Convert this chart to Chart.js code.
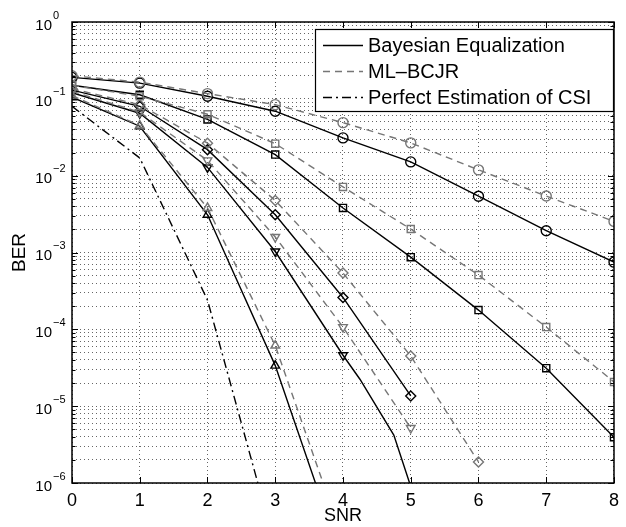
<!DOCTYPE html>
<html>
<head>
<meta charset="utf-8">
<script src="https://cdn.jsdelivr.net/npm/chart.js@4.4.0/dist/chart.umd.min.js"></script>
<style>
html,body{margin:0;padding:0;background:#fff;}
#wrap{width:626px;height:527px;}
</style>
</head>
<body>
<div id="wrap"><canvas id="c" width="626" height="527"></canvas></div>
<script>
// ---- data ----
const snr = [0, 1, 2, 3, 4, 5, 6, 7, 8];
const bayesCircle  = [0.19, 0.16, 0.108, 0.069, 0.031, 0.0151, 0.0054, 0.00192, 0.00075];
const mlCircle     = [0.20, 0.165, 0.117, 0.084, 0.049, 0.0267, 0.0119, 0.00543, 0.00254];
const bayesSquare  = [0.15, 0.113, 0.054, 0.0188, 0.0038, 0.00087, 0.000178, 0.0000312, 0.00000394];
const mlSquare     = [0.15, 0.108, 0.063, 0.0261, 0.00713, 0.00202, 0.000508, 0.000107, 0.0000207];
const bayesDiamond = [0.13, 0.08, 0.0218, 0.0031, 0.00026, 0.0000136];
const mlDiamond    = [0.135, 0.084, 0.0265, 0.00476, 0.00054, 0.000045, 0.00000188];
const snrTriDownB  = [0, 1, 2, 3, 4, 4.25, 4.75, 5];
const bayesTriDown = [0.12, 0.065, 0.0128, 0.00103, 0.000046, 0.0000224, 0.0000042, 0.0000009];
const mlTriDown    = [0.125, 0.067, 0.0158, 0.00159, 0.000107, 0.0000052];
const bayesTriUp   = [0.105, 0.044, 0.0031, 0.0000337, 0.00000009];
const mlTriUp      = [0.11, 0.045, 0.0038, 0.0000615, 0.00000018];
const perfectCSI   = [0.08, 0.017, 0.00024, 0.00000015];
const legendLabels = ['Bayesian Equalization', 'ML\u2013BCJR', 'Perfect Estimation of CSI'];
const yTickBase = '10';
const yTickExponents = ['\u22126', '\u22125', '\u22124', '\u22123', '\u22122', '\u22121', '0'];

const BLACK = '#000000';
const GRAY = '#767676';
const DASH = [7, 5];
const DASHDOT = [9, 4, 2, 4];

function pts(xs, ys) { return ys.map((v, i) => ({x: xs[i], y: v})); }
function markerRadius(ctx) {
  const r = ctx.raw;
  return (r && Number.isInteger(r.x) && r.y >= 1e-6) ? 5 : 0;
}
function series(label, xs, ys, color, dash, style, rot) {
  return {
    label: label,
    data: pts(xs, ys),
    borderColor: color,
    backgroundColor: 'rgba(0,0,0,0)',
    borderWidth: 1.4,
    borderDash: dash,
    pointStyle: style,
    pointRotation: rot || 0,
    pointRadius: style ? markerRadius : 0,
    pointBorderColor: color,
    pointBorderWidth: 1.4,
    pointBackgroundColor: 'rgba(0,0,0,0)',
    tension: 0,
    fill: false
  };
}

const datasets = [
  series('ML circle', snr, mlCircle, GRAY, DASH, 'circle'),
  series('ML square', snr, mlSquare, GRAY, DASH, 'rect'),
  series('ML diamond', snr, mlDiamond, GRAY, DASH, 'rectRot'),
  series('ML tri down', snr, mlTriDown, GRAY, DASH, 'triangle', 180),
  series('ML tri up', snr, mlTriUp, GRAY, DASH, 'triangle'),
  series('Bayes circle', snr, bayesCircle, BLACK, [], 'circle'),
  series('Bayes square', snr, bayesSquare, BLACK, [], 'rect'),
  series('Bayes diamond', snr, bayesDiamond, BLACK, [], 'rectRot'),
  series('Bayes tri down', snrTriDownB, bayesTriDown, BLACK, [], 'triangle', 180),
  series('Bayes tri up', snr, bayesTriUp, BLACK, [], 'triangle'),
  series('Perfect CSI', snr, perfectCSI, BLACK, DASHDOT, false)
];

const FONT = "'Liberation Sans', Arial, Helvetica, sans-serif";
Chart.defaults.font.family = FONT;

const framePlugin = {
  id: 'frame',
  afterDraw(chart) {
    const ctx = chart.ctx;
    const a = chart.chartArea;
    const xs = chart.scales.x, ys = chart.scales.y;
    ctx.save();
    ctx.strokeStyle = '#000';
    ctx.setLineDash([]);
    // inward ticks
    ctx.lineWidth = 1;
    ctx.beginPath();
    for (let v = 0; v <= 8; v++) {
      const px = Math.round(xs.getPixelForValue(v)) + 0.5;
      ctx.moveTo(px, a.bottom); ctx.lineTo(px, a.bottom - 6);
      ctx.moveTo(px, a.top); ctx.lineTo(px, a.top + 6);
    }
    for (let e = -6; e <= 0; e++) {
      for (let m = 1; m <= 9; m++) {
        const val = m * Math.pow(10, e);
        if (val > 1.0000001) break;
        const py = Math.round(ys.getPixelForValue(val)) + 0.5;
        const len = m === 1 ? 6 : 3.5;
        ctx.moveTo(a.left, py); ctx.lineTo(a.left + len, py);
        ctx.moveTo(a.right, py); ctx.lineTo(a.right - len, py);
      }
    }
    ctx.stroke();
    // box
    ctx.lineWidth = 1.5;
    ctx.strokeRect(a.left, a.top, a.right - a.left, a.bottom - a.top);
    // y tick labels: 10 with raised exponent
    ctx.fillStyle = '#000';
    ctx.textBaseline = 'alphabetic';
    for (let e = -6; e <= 0; e++) {
      const py = ys.getPixelForValue(Math.pow(10, e));
      ctx.font = '15px ' + FONT;
      ctx.textAlign = 'right';
      ctx.fillText(yTickBase, 52, py + 7.5);
      ctx.font = '11px ' + FONT;
      ctx.textAlign = 'left';
      ctx.fillText(yTickExponents[e + 6], 53, py - 3.5);
    }
    // legend
    const lx = 315, ly = 29, lw = 298, lh = 82;
    ctx.fillStyle = '#fff';
    ctx.fillRect(lx, ly, lw, lh);
    ctx.lineWidth = 1.2;
    ctx.strokeStyle = '#000';
    ctx.strokeRect(lx + 0.5, ly + 0.5, lw, lh);
    const rows = [45, 71, 97];
    const styles = [[BLACK, []], [GRAY, DASH], [BLACK, DASHDOT]];
    ctx.font = '20px ' + FONT;
    ctx.textBaseline = 'middle';
    ctx.textAlign = 'left';
    for (let i = 0; i < 3; i++) {
      ctx.beginPath();
      ctx.strokeStyle = styles[i][0];
      ctx.setLineDash(styles[i][1]);
      ctx.lineWidth = 1.4;
      ctx.moveTo(323, rows[i] + 0.5);
      ctx.lineTo(363, rows[i] + 0.5);
      ctx.stroke();
      ctx.setLineDash([]);
      ctx.fillStyle = '#000';
      ctx.fillText(legendLabels[i], 368, rows[i] + 1);
    }
    ctx.restore();
  }
};

new Chart(document.getElementById('c'), {
  type: 'line',
  data: {datasets: datasets},
  plugins: [framePlugin],
  options: {
    responsive: false,
    animation: false,
    devicePixelRatio: 1,
    layout: {padding: {left: 0, right: 5, top: 22, bottom: 0}},
    plugins: {legend: {display: false}, tooltip: {enabled: false}},
    elements: {line: {borderCapStyle: 'butt'}},
    scales: {
      x: {
        type: 'linear', min: 0, max: 8,
        ticks: {stepSize: 1, padding: 7, color: '#000', font: {size: 18}, maxRotation: 0},
        grid: {color: 'rgba(0,0,0,0.6)', lineWidth: 1, drawTicks: false},
        border: {display: false, dash: [1, 3]},
        title: {display: true, text: 'SNR', color: '#000', font: {size: 18}, padding: {top: 0, bottom: 0}},
        afterFit(s) { s.height = 44; }
      },
      y: {
        type: 'logarithmic', min: 1e-6, max: 1,
        afterBuildTicks(s) {
          const t = [];
          for (let e = -6; e <= 0; e++) {
            for (let m = 1; m <= 9; m++) {
              const val = m * Math.pow(10, e);
              if (val > 1.0000001) break;
              t.push({value: val, major: m === 1});
            }
          }
          s.ticks = t;
        },
        ticks: {autoSkip: false, padding: 7, color: '#000', font: {size: 15}, callback() { return ''; }},
        grid: {color: 'rgba(0,0,0,0.6)', lineWidth: 1, drawTicks: false},
        border: {display: false, dash: [1, 3]},
        title: {display: true, text: 'BER', color: '#000', font: {size: 19}, padding: {top: 8, bottom: 0}},
        afterFit(s) { s.width = 72; }
      }
    }
  }
});
</script>
</body>
</html>
